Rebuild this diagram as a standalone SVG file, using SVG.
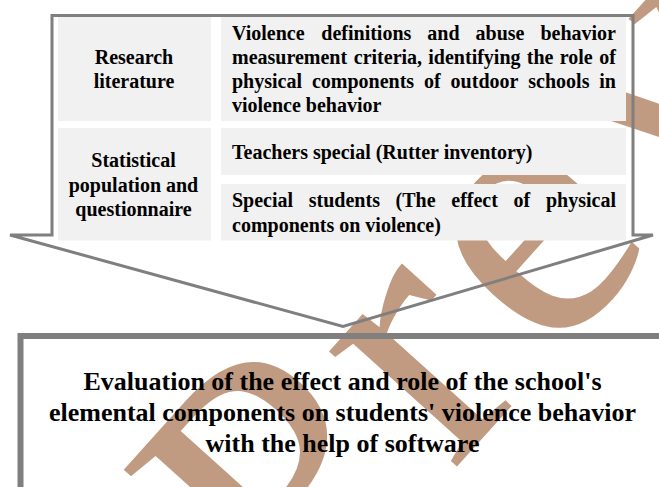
<svg xmlns="http://www.w3.org/2000/svg" width="659" height="487" viewBox="0 0 659 487" font-family="'Liberation Serif', Tinos, 'Times New Roman', Times, 'DejaVu Serif', serif">
<style>
.t{font-weight:bold;fill:#000}
.s{font-size:20px}
.b{font-size:26px}
.c{text-anchor:middle}
.cell{fill:#f1f1f1}
.ln{fill:none;stroke:#7f7f7f}
.wm{font-size:375px;letter-spacing:20px;fill:#c19b81}
</style>
<rect width="659" height="487" fill="#fff"/>
<text class="wm" transform="translate(299,642) rotate(-48)">Preview</text>
<g id="connectors">
<path class="ln" stroke-width="3" d="M52,15.5 H633 V235 H653 L343,326.5 L10,235 H52 Z"/>
</g>
<g id="cell-research">
<rect class="cell" x="58" y="17" width="153" height="104"/>
<text class="t s c" x="134" y="64">Research</text>
<text class="t s c" x="134" y="88">literature</text>
</g>
<g id="cell-violence">
<rect class="cell" x="221" y="17" width="405" height="104"/>
<text class="t s" y="40"><tspan x="232">Violence</tspan><tspan x="321.3">definitions</tspan><tspan x="427.3">and</tspan><tspan x="475.6">abuse</tspan><tspan x="616" text-anchor="end">behavior</tspan></text>
<text class="t s" y="64"><tspan x="232">measurement</tspan><tspan x="353.8">criteria,</tspan><tspan x="428.3">identifying</tspan><tspan x="526.8">the</tspan><tspan x="559.8">role</tspan><tspan x="616" text-anchor="end">of</tspan></text>
<text class="t s" y="88"><tspan x="232">physical</tspan><tspan x="311.9">components</tspan><tspan x="424.1">of</tspan><tspan x="450.6">outdoor</tspan><tspan x="528.3">schools</tspan><tspan x="616" text-anchor="end">in</tspan></text>
<text class="t s" x="232" y="112">violence behavior</text>
</g>
<g id="cell-statistical">
<rect class="cell" x="58" y="128" width="153" height="112.5"/>
<text class="t s c" x="133.5" y="167">Statistical</text>
<text class="t s c" x="133.5" y="191.5">population and</text>
<text class="t s c" x="133.5" y="216">questionnaire</text>
</g>
<g id="cell-teachers">
<rect class="cell" x="221" y="128" width="405" height="47"/>
<text class="t s" x="232" y="159">Teachers special (Rutter inventory)</text>
</g>
<g id="cell-students">
<rect class="cell" x="221" y="184" width="405" height="56.5"/>
<text class="t s" y="207"><tspan x="232">Special</tspan><tspan x="308.8">students</tspan><tspan x="395.6">(The</tspan><tspan x="451.3">effect</tspan><tspan x="513.6">of</tspan><tspan x="616" text-anchor="end">physical</tspan></text>
<text class="t s" x="232" y="231.5">components on violence)</text>
</g>
<g id="evaluation">
<rect class="ln" stroke-width="6" x="20.5" y="336" width="700" height="200"/>
<text class="t b c" x="342.5" y="389.5">Evaluation of the effect and role of the school's</text>
<text class="t b c" x="342.5" y="420.5">elemental components on students' violence behavior</text>
<text class="t b c" x="342.5" y="451.5">with the help of software</text>
</g>
</svg>
